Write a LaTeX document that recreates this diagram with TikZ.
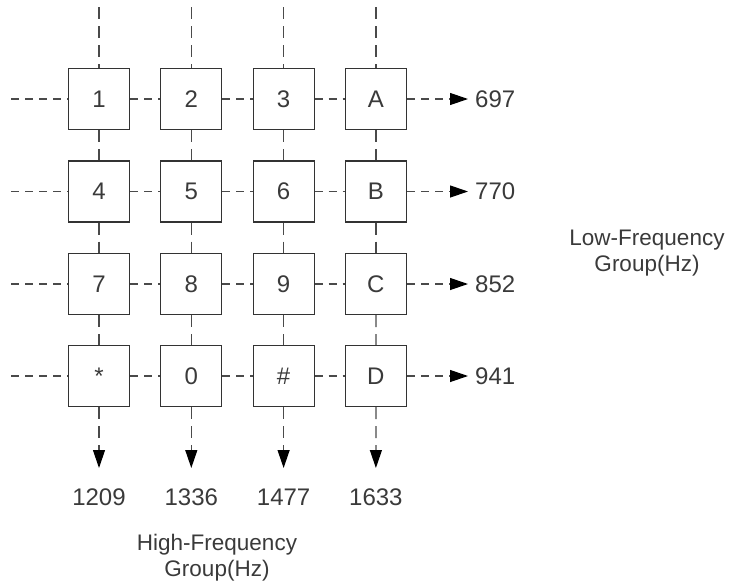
\documentclass[tikz,border=0pt]{standalone}
\usepackage{fontspec}
\setmainfont{Liberation Sans}
\usetikzlibrary{arrows.meta}
\definecolor{ln}{HTML}{4A4A4A}
\definecolor{tx}{HTML}{3A3A3A}
\tikzset{
  key/.style={draw=black!80, line width=1.2pt, fill=white, minimum size=61pt, inner sep=0pt, font=\fontsize{24}{24}\selectfont, text=tx},
  hline/.style={draw=ln, line width=1.2pt, dash pattern=on 8pt off 6pt},
  vline/.style={draw=ln, line width=1.2pt, dash pattern=on 12pt off 7pt},
  tip/.style={-{Triangle[length=18pt,width=12pt,fill=black,color=black]}},
  lbl/.style={font=\fontsize{24}{24}\selectfont, text=tx, inner sep=0pt},
  grp/.style={font=\fontsize{22.5}{26}\selectfont, text=tx, align=center, inner sep=0pt}
}
\begin{document}
\begin{tikzpicture}[x=1pt,y=-1pt]
\useasboundingbox (0,0) rectangle (731,587);
% keys
\foreach \t [count=\c] in {1,2,3,A}{\node[key] (b1\c) at ({99+92.3*(\c-1)},99) {\t};}
\foreach \t [count=\c] in {4,5,6,B}{\node[key] (b2\c) at ({99+92.3*(\c-1)},191.5) {\t};}
\foreach \t [count=\c] in {7,8,9,C}{\node[key] (b3\c) at ({99+92.3*(\c-1)},284) {\t};}
\node[key] (b41) at (99,376) {*};
\node[key] (b42) at (191.3,376) {0};
\node[key] (b43) at (283.6,376) {\#};
\node[key] (b44) at (375.9,376) {D};
% row start / end coordinates
\foreach \r/\y in {1/99,2/191.5,3/284,4/376}{
  \coordinate (l\r) at (11,\y);
  \coordinate (r\r) at (468,\y);
}
\foreach \c in {1,2,3,4}{
  \coordinate (t\c) at ({99+92.3*(\c-1)},7);
  \coordinate (d\c) at ({99+92.3*(\c-1)},468);
}
% horizontal lines
\foreach \r in {1,2,3,4}{
  \draw[hline] (l\r) -- (b\r1);
  \draw[hline] (b\r1) -- (b\r2);
  \draw[hline] (b\r2) -- (b\r3);
  \draw[hline] (b\r3) -- (b\r4);
  \draw[hline,tip] (b\r4) -- (r\r);
}
% vertical lines
\foreach \c in {1,2,3,4}{
  \draw[vline] (t\c) -- (b1\c);
  \draw[vline] (b1\c) -- (b2\c);
  \draw[vline] (b2\c) -- (b3\c);
  \draw[vline] (b3\c) -- (b4\c);
  \draw[vline,tip] (b4\c) -- (d\c);
}
% row labels
\node[lbl,anchor=west] (f1) at (475,99) {697};
\node[lbl,anchor=west] (f2) at (475,191.5) {770};
\node[lbl,anchor=west] (f3) at (475,284) {852};
\node[lbl,anchor=west] (f4) at (475,376) {941};
% column labels
\node[lbl] (c1) at (99,497) {1209};
\node[lbl] (c2) at (191.3,497) {1336};
\node[lbl] (c3) at (283.6,497) {1477};
\node[lbl] (c4) at (375.9,497) {1633};
\node[grp] (lowg) at (647,253) {Low-Frequency\\Group(Hz)};
\node[grp] (highg) at (217,558) {High-Frequency\\Group(Hz)};
\end{tikzpicture}
\end{document}
